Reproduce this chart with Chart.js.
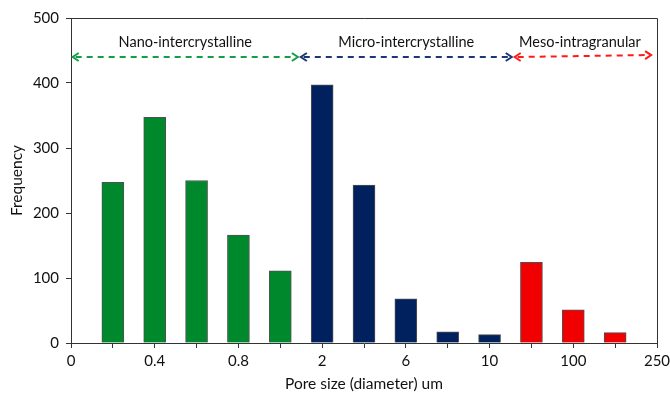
<!DOCTYPE html>
<html>
<head>
<meta charset="utf-8">
<script src="https://cdn.jsdelivr.net/npm/chart.js@4"></script>
<style>
    html, body { margin: 0; padding: 0; background: #fff; }
    #wrap { width: 670px; height: 393px; }
</style>
</head>
<body>
<div id="wrap"><canvas id="poreChart" width="670" height="393"></canvas></div>
<script>
// Bars sit at positions 1..13, tick labels only on even positions
const tickLabels = ['0', '', '0.4', '', '0.8', '', '2', '', '6', '', '10', '', '100', '', '250'];
const nanoPos = [1, 2, 3, 4, 5];
const nanoFreq = [247, 347, 250, 166, 111];
const microPos = [6, 7, 8, 9, 10];
const microFreq = [397, 243, 68, 17, 13];
const mesoPos = [11, 12, 13];
const mesoFreq = [124, 51, 16];

// dashed double arrows across the top: [x start, x end, y start, y end]
const regionNames = ['Nano-intercrystalline', 'Micro-intercrystalline', 'Meso-intragranular'];
const regionSpans = [[0.04, 5.42, 440, 440], [5.49, 10.53, 440, 440], [10.6, 13.86, 440, 443]];
const regionColors = ['#12a046', '#1c3778', '#ff1a1a'];

const FONT = 'Lato, "Open Sans", sans-serif';

function pts(xs, ys) {
    return xs.map((x, i) => ({ x: x, y: ys[i] }));
}

// draw the plot frame and the region arrows
const regionPlugin = {
    id: 'regions',
    afterDraw(chart) {
        const ctx = chart.ctx;
        const area = chart.chartArea;
        const xs = chart.scales.x;
        const ys = chart.scales.y;
        ctx.save();
        ctx.strokeStyle = '#333';
        ctx.lineWidth = 1;
        ctx.beginPath();
        ctx.moveTo(area.left, area.top + 0.5);
        ctx.lineTo(area.right + 0.5, area.top + 0.5);
        ctx.lineTo(area.right + 0.5, area.bottom);
        ctx.stroke();

        regionSpans.forEach((s, i) => {
            const x1 = xs.getPixelForValue(s[0]);
            const x2 = xs.getPixelForValue(s[1]);
            const y1 = ys.getPixelForValue(s[2]);
            const y2 = ys.getPixelForValue(s[3]);
            ctx.strokeStyle = regionColors[i];
            ctx.lineWidth = 2;
            ctx.setLineDash([6, 5]);
            ctx.beginPath();
            ctx.moveTo(x1 + 3, y1);
            ctx.lineTo(x2 - 3, y2);
            ctx.stroke();
            ctx.setLineDash([]);
            // chevron heads
            ctx.beginPath();
            ctx.moveTo(x1 + 6, y1 - 4);
            ctx.lineTo(x1, y1);
            ctx.lineTo(x1 + 6, y1 + 4);
            ctx.moveTo(x2 - 6, y2 - 4);
            ctx.lineTo(x2, y2);
            ctx.lineTo(x2 - 6, y2 + 4);
            ctx.stroke();

            ctx.fillStyle = '#111';
            ctx.font = '14.5px ' + FONT;
            ctx.textAlign = 'center';
            ctx.textBaseline = 'middle';
            const cx = i === 2 ? (x1 + x2) / 2 - 3 : (x1 + x2) / 2;
            ctx.fillText(regionNames[i], cx, y1 - 15);
        });
        ctx.restore();
    }
};

const barStyle = {
    borderColor: '#505050',
    borderWidth: 1,
    borderSkipped: 'bottom',
    barThickness: 22,
    grouped: false
};

new Chart(document.getElementById('poreChart'), {
    type: 'bar',
    data: {
        datasets: [
            Object.assign({ label: 'Nano', data: pts(nanoPos, nanoFreq), backgroundColor: '#00892c' }, barStyle),
            Object.assign({ label: 'Micro', data: pts(microPos, microFreq), backgroundColor: '#00205e' }, barStyle),
            Object.assign({ label: 'Meso', data: pts(mesoPos, mesoFreq), backgroundColor: '#f00000' }, barStyle)
        ]
    },
    plugins: [regionPlugin],
    options: {
        responsive: false,
        animation: false,
        layout: { padding: { top: 18, right: 13, left: 0, bottom: 0 } },
        plugins: {
            legend: { display: false },
            tooltip: { enabled: false }
        },
        scales: {
            x: {
                type: 'linear',
                min: 0,
                max: 14,
                offset: false,
                afterFit: (s) => { s.height = 50; s.paddingRight = 0; s.paddingLeft = 0; },
                afterBuildTicks: (s) => { s.ticks = tickLabels.map((_, i) => ({ value: i })); },
                ticks: {
                    autoSkip: false,
                    maxRotation: 0,
                    padding: 4,
                    color: '#111',
                    font: { family: FONT, size: 15 },
                    callback: (v) => tickLabels[v]
                },
                grid: { drawOnChartArea: false, drawTicks: true, tickLength: 5, color: '#333', offset: false },
                border: { display: true, color: '#333', width: 1 },
                title: {
                    display: true,
                    text: 'Pore size (diameter) um',
                    color: '#111',
                    font: { family: FONT, size: 15.5 },
                    padding: { top: 3, bottom: 0 }
                }
            },
            y: {
                min: 0,
                max: 500,
                afterFit: (s) => { s.width = 71; },
                ticks: {
                    stepSize: 100,
                    padding: 7,
                    color: '#111',
                    font: { family: FONT, size: 15 }
                },
                grid: { drawOnChartArea: false, drawTicks: true, tickLength: 5, color: '#333' },
                border: { display: true, color: '#333', width: 1 },
                title: {
                    display: true,
                    text: 'Frequency',
                    color: '#111',
                    font: { family: FONT, size: 15.5 },
                    padding: { top: 8, bottom: 0 }
                }
            }
        }
    }
});
</script>
</body>
</html>
